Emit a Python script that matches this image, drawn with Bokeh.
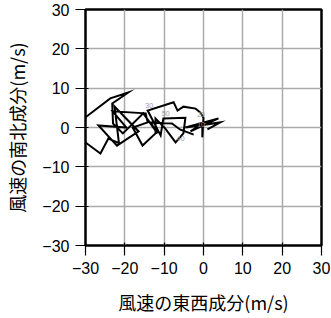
from bokeh.plotting import figure
from bokeh.models import Range1d, FixedTicker, ColumnDataSource
from bokeh.core.properties import value
from bokeh.embed import file_html
from bokeh.resources import INLINE

# hodograph wind components (m/s)
u_wind = [1.0, 4.3, -4.6, 3.8, -3.3, -0.3, -0.3, 0.0, -0.8, -2.0, -5.1, -6.6, -7.6, -14.2,
          -10.9, -10.2, -4.6, -5.1, -7.1, -9.7, -12.2, -12.2, -15.5, -18.0, -14.2, -14.7,
          -23.1, -19.6, -26.7, -22.0, -16.5, -22.6, -21.5, -24.2, -26.2, -30.0, -31.0,
          -30.0, -23.7, -19.1, -23.2, -23.0, -20.5, -15.3, -11.7, -13.5, -8.0, -6.0, -2.5]
v_wind = [-0.5, 1.3, 0.0, 2.3, -1.0, 1.0, -2.5, 2.5, 3.8, 4.8, 5.3, 4.3, 6.4, 4.3,
          -2.0, 2.3, 2.5, -1.5, -3.8, -0.3, 2.3, -1.5, -4.6, 0.0, 1.3, 3.6,
          4.1, 0.0, 0.5, -4.6, -1.0, 5.3, -4.0, -2.8, -6.6, -3.8, -0.5,
          2.6, 7.4, 8.9, 6.1, 1.0, -1.5, 3.6, -1.5, 1.3, 1.0, -0.5, -1.8]

label_text = ["10", "20", "30", "40", "50"]
label_u = [-1.6, -1.6, -14.8, -6.8, -10.6]
label_v = [0.8, 3.4, 5.7, -2.9, 3.6]

ticks = [-30, -20, -10, 0, 10, 20, 30]
tick_labels = {t: (str(t).replace("-", "\u2212")) for t in ticks}

p = figure(width=331, height=318, output_backend="svg", toolbar_location=None,
           x_range=Range1d(-30, 30), y_range=Range1d(-30, 30),
           min_border_left=85, min_border_right=10, min_border_top=9, min_border_bottom=73)
p.background_fill_color = "white"
p.border_fill_color = "white"
p.outline_line_color = "black"
p.outline_line_width = 2.5

for ax in (p.xaxis[0], p.yaxis[0]):
    ax.ticker = FixedTicker(ticks=ticks)
    ax.major_label_overrides = tick_labels
    ax.major_label_text_font = "Liberation Sans"
    ax.major_label_text_font_size = "16px"
    ax.major_label_text_color = "black"
    ax.axis_line_color = None
    ax.major_tick_line_color = "black"
    ax.major_tick_line_width = 1.2
    ax.major_tick_out = 10
    ax.major_tick_in = 3
    ax.minor_tick_line_color = None
    ax.axis_label_text_font = "Noto Sans CJK JP"
    ax.axis_label_text_font_size = "18px"
    ax.axis_label_text_font_style = "normal"
    ax.axis_label_text_color = "black"
    ax.major_label_standoff = 6

p.xaxis.axis_label = "風速の東西成分(m/s)"
p.yaxis.axis_label = "風速の南北成分(m/s)"
p.xaxis.axis_label_standoff = 12
p.yaxis.axis_label_standoff = 9

p.xgrid.ticker = FixedTicker(ticks=ticks)
p.ygrid.ticker = FixedTicker(ticks=ticks)
p.grid.grid_line_color = "#aaaaaa"
p.grid.grid_line_width = 1.5

p.line(u_wind, v_wind, line_color="black", line_width=2.0, line_join="miter")

src = ColumnDataSource(dict(x=label_u, y=label_v, t=label_text))
p.text("x", "y", text="t", source=src, text_font=value("Liberation Sans"),
       text_font_size="7px", text_color="#999999", text_baseline="middle", text_align="left")

open("out.html", "w").write(file_html(p, INLINE))
